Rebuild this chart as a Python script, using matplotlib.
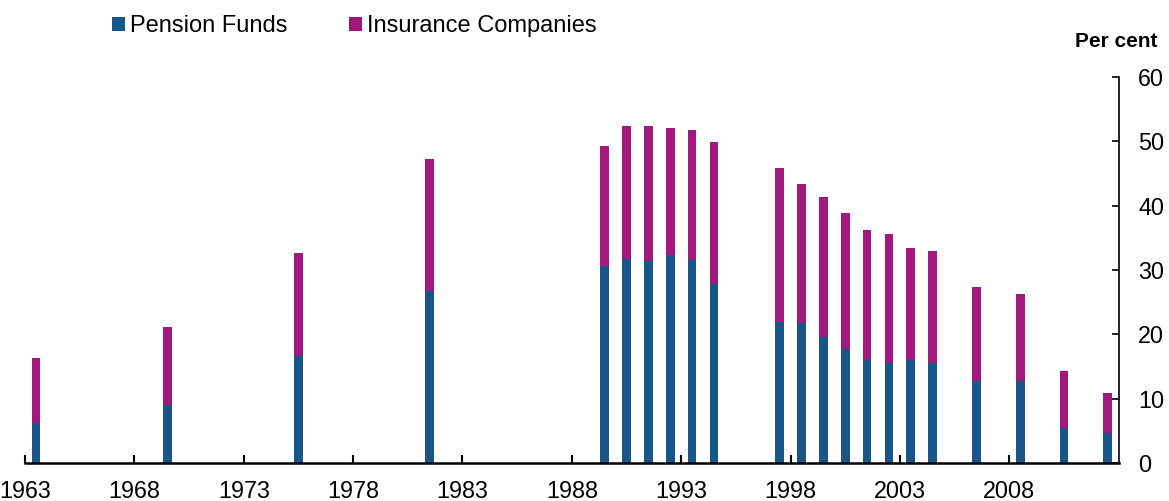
import matplotlib.pyplot as plt
import numpy as np

plt.rcParams['font.family'] = ['Liberation Sans', 'DejaVu Sans']

years = [1963, 1969, 1975, 1981, 1989, 1990, 1991, 1992, 1993, 1994,
         1997, 1998, 1999, 2000, 2001, 2002, 2003, 2004, 2006, 2008, 2010, 2012]
pension = [6.3, 9.0, 16.7, 26.7, 30.7, 31.7, 31.4, 32.4, 31.6, 27.9,
           22.0, 21.8, 19.6, 17.7, 16.1, 15.6, 16.0, 15.6, 12.7, 12.7, 5.5, 4.7]
total = [16.3, 21.1, 32.7, 47.3, 49.3, 52.3, 52.3, 52.1, 51.7, 49.9,
         45.9, 43.4, 41.4, 38.9, 36.2, 35.6, 33.4, 33.0, 27.4, 26.3, 14.4, 10.9]
insurance = [t - p for t, p in zip(total, pension)]

tick_years = [1963, 1968, 1973, 1978, 1983, 1988, 1993, 1998, 2003, 2008]
first_year = 1963
n_years = 50

blue = '#185689'
magenta = '#A1197C'

fig = plt.figure(figsize=(11.69, 5.01), dpi=100)
ax = fig.add_axes([0.0214, 0.0752, 0.9355, 0.7717])

x = np.array(years) - first_year + 0.5
ax.bar(x, pension, 0.4, color=blue, label='Pension Funds')
ax.bar(x, insurance, 0.4, bottom=pension, color=magenta, label='Insurance Companies')

ax.set_xlim(0, n_years)
ax.set_ylim(0, 60)
ax.set_xticks([y - first_year for y in tick_years])
ax.set_xticklabels([str(y) for y in tick_years], fontsize=16.8)
ax.set_yticks(range(0, 61, 10))
ax.yaxis.tick_right()
ax.tick_params(axis='y', direction='in', length=5, width=1.2, labelsize=16.8, pad=14)
ax.tick_params(axis='x', direction='in', length=6, width=1.5, pad=12)

ax.spines['top'].set_visible(False)
ax.spines['left'].set_visible(False)
ax.spines['bottom'].set_linewidth(1.8)
ax.spines['right'].set_linewidth(1.2)

fig.text(0.99, 0.918, 'Per cent', fontsize=15, fontweight='bold', ha='right', va='center')

fig.legend(loc='center left', bbox_to_anchor=(0.0855, 0.948), ncol=2, frameon=False,
           fontsize=17, handlelength=0.55, handleheight=0.55, handletextpad=0.21,
           columnspacing=2.6, borderpad=0)

plt.savefig('out.png', dpi=100)
